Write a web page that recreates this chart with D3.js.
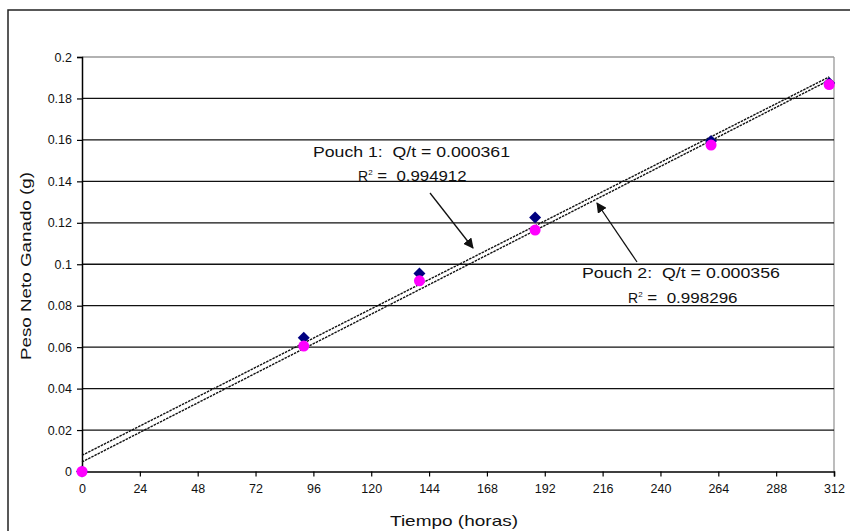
<!DOCTYPE html>
<html><head><meta charset="utf-8">
<script src="https://cdn.jsdelivr.net/npm/d3@7"></script>
<style>body{margin:0;background:#fff}svg{display:block;font-family:"Liberation Sans",Arial,sans-serif}text{white-space:pre}</style>
</head><body>
<svg id="c" width="850" height="531"></svg>
<script>
const times = [0, 92, 140, 188, 261, 310];
const pouch1 = [0, 0.0645, 0.0955, 0.1225, 0.1595, 0.1875];
const pouch2 = [0, 0.0605, 0.0920, 0.1165, 0.1575, 0.1867];
const trend1 = [[0, 0.0078], [310, 0.1904]];
const trend2 = [[0, 0.0046], [310, 0.1888]];
const yTicks = [0, 0.02, 0.04, 0.06, 0.08, 0.1, 0.12, 0.14, 0.16, 0.18, 0.2];
const xTicks = [0, 24, 48, 72, 96, 120, 144, 168, 192, 216, 240, 264, 288, 312];
const label1 = ["Pouch 1:  Q/t = 0.000361", "0.994912"];
const label2 = ["Pouch 2:  Q/t = 0.000356", "0.998296"];

const svg = d3.select("#c");
const L = 82, R = 834, T = 57, B = 471.5;
const x = d3.scaleLinear().domain([0, 312]).range([L, R]);
const y = d3.scaleLinear().domain([0, 0.2]).range([B, T]);

// outer frame
svg.append("rect").attr("x", 8).attr("y", 10).attr("width", 860).attr("height", 540)
  .attr("fill", "none").attr("stroke", "#222").attr("stroke-width", 1.5);

// plot frame (gray top/right)
svg.append("line").attr("x1", L).attr("x2", R).attr("y1", y(0.2)).attr("y2", y(0.2)).attr("stroke", "#999").attr("stroke-width", 1.3);
svg.append("line").attr("x1", R).attr("x2", R).attr("y1", T).attr("y2", B).attr("stroke", "#999").attr("stroke-width", 1.3);

// gridlines
svg.append("g").selectAll("line").data(yTicks.filter(d => d > 0 && d < 0.2)).join("line")
  .attr("x1", L).attr("x2", R).attr("y1", d => y(d)).attr("y2", d => y(d))
  .attr("stroke", "#111").attr("stroke-width", 1.3);

// axes
const yAxis = d3.axisLeft(y).tickValues(yTicks).tickFormat(d => String(+d.toFixed(2))).tickSize(5).tickPadding(5);
const gy = svg.append("g").attr("transform", `translate(${L},0)`).call(yAxis);
const xAxis = d3.axisBottom(x).tickValues(xTicks).tickFormat(d3.format("d")).tickSize(5).tickPadding(8);
const gx = svg.append("g").attr("transform", `translate(0,${B})`).call(xAxis);
[gx, gy].forEach(g => {
  g.selectAll("path.domain").attr("stroke", "#000").attr("stroke-width", 1.5);
  g.selectAll(".tick line").attr("stroke", "#000").attr("stroke-width", 1.2);
  g.selectAll("text").attr("font-size", 12.5).attr("fill", "#111").attr("font-family", "Liberation Sans, Arial, sans-serif");
});

// trendlines
const line = d3.line().x(d => x(d[0])).y(d => y(d[1]));
[trend1, trend2].forEach(t => {
  svg.append("path").attr("d", line(t)).attr("fill", "none")
    .attr("stroke", "#111").attr("stroke-width", 1.4).attr("stroke-dasharray", "2.5,1");
});

// markers
const diamond = "M0,-6 L6,0 L0,6 L-6,0 Z";
svg.append("g").selectAll("path").data(times.map((t, i) => [t, pouch1[i]])).join("path")
  .attr("d", diamond).attr("transform", d => `translate(${x(d[0])},${y(d[1])})`)
  .attr("fill", "#000080");
svg.append("g").selectAll("circle").data(times.map((t, i) => [t, pouch2[i]])).join("circle")
  .attr("cx", d => x(d[0])).attr("cy", d => y(d[1])).attr("r", 5.5)
  .attr("fill", "#ff00ff");

// annotations
const defs = svg.append("defs");
defs.append("marker").attr("id", "ah").attr("viewBox", "0 0 10 10").attr("refX", 9).attr("refY", 5)
  .attr("markerWidth", 8).attr("markerHeight", 8).attr("orient", "auto")
  .append("path").attr("d", "M0,0 L10,5 L0,10 Z").attr("fill", "#111");

function ann(lines, x1, y1, w1, x2, y2, w2) {
  svg.append("text").attr("x", x1).attr("y", y1)
    .attr("font-size", 14).attr("fill", "#111")
    .attr("textLength", w1).attr("lengthAdjust", "spacingAndGlyphs").text(lines[0]);
  const t2 = svg.append("text").attr("x", x2).attr("y", y2)
    .attr("font-size", 14).attr("fill", "#111");
  t2.append("tspan").text("R");
  t2.append("tspan").attr("dy", -6).attr("font-size", 8).text("2");
  t2.append("tspan").attr("dy", 6).attr("textLength", w2 - 15).attr("lengthAdjust", "spacingAndGlyphs").text(" =  " + lines[1]);
}
ann(label1, 313, 157, 197, 358, 181, 109);
ann(label2, 582, 278, 198, 628, 303, 110);

svg.append("line").attr("x1", 430).attr("y1", 193).attr("x2", 473).attr("y2", 248)
  .attr("stroke", "#111").attr("stroke-width", 1.3).attr("marker-end", "url(#ah)");
svg.append("line").attr("x1", 637).attr("y1", 262).attr("x2", 597).attr("y2", 203)
  .attr("stroke", "#111").attr("stroke-width", 1.3).attr("marker-end", "url(#ah)");

// axis titles
svg.append("text").attr("x", 390).attr("y", 526)
  .attr("font-size", 15).attr("fill", "#111")
  .attr("textLength", 128).attr("lengthAdjust", "spacingAndGlyphs").text("Tiempo (horas)");
svg.append("text").attr("transform", "translate(31,360) rotate(-90)")
  .attr("font-size", 14.5).attr("fill", "#111")
  .attr("textLength", 188).attr("lengthAdjust", "spacingAndGlyphs").text("Peso Neto Ganado (g)");
</script>
</body></html>
